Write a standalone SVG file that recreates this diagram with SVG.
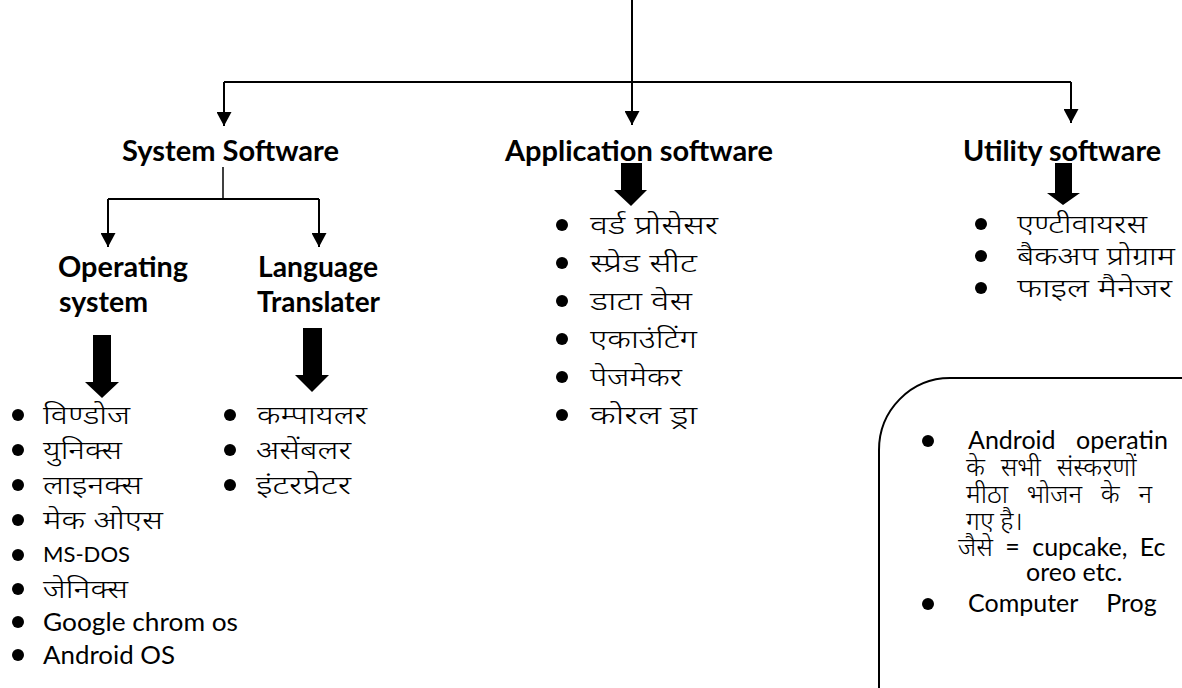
<svg xmlns="http://www.w3.org/2000/svg" width="1182" height="688" viewBox="0 0 1182 688">
<style>
.h{font-family:Lato,"Open Sans",sans-serif;font-weight:bold;font-size:28px;fill:#000}
.t{font-family:"Noto Sans",sans-serif;font-size:25px;font-weight:300;fill:#000}
.b{font-family:"Noto Sans",sans-serif;font-size:26px;font-weight:300;fill:#000}
.l{font-family:Lato,"Noto Sans",sans-serif;font-size:25px;fill:#000}
.ln{stroke:#000;stroke-width:2;fill:none}
.blk{fill:#000}
</style>
<defs>
<marker id="ah" markerWidth="7" markerHeight="7.5" refX="7" refY="3.75" orient="auto" markerUnits="strokeWidth">
<path d="M0,0 L7,3.75 L0,7.5 Z" fill="#000"/>
</marker>
</defs>
<g id="connectors">
<path class="ln" d="M632,0 V125" marker-end="url(#ah)"/>
<path class="ln" d="M224,82 H1071"/>
<path class="ln" d="M224,82 V126" marker-end="url(#ah)"/>
<path class="ln" d="M1071,82 V123" marker-end="url(#ah)"/>
<path class="ln" style="stroke-width:1.5" d="M223,167 V199"/>
<path class="ln" d="M108,199 H319"/>
<path class="ln" d="M108,199 V247" marker-end="url(#ah)"/>
<path class="ln" d="M319,199 V247" marker-end="url(#ah)"/>
<path class="blk" d="M93,335 H111 V382 H119 L102,398 L85,382 H93 Z"/>
<path class="blk" d="M303,328 H322 V375 H329 L312,392 L295,375 H303 Z"/>
<path class="blk" d="M621,163 H642 V190 H647 L631,206 L614,190 H621 Z"/>
<path class="blk" d="M1055,163 H1072 V193 H1080 L1063,205 L1047,193 H1055 Z"/>
</g>
<g id="system-software"><text class="h" x="122" y="161" textLength="217" lengthAdjust="spacingAndGlyphs">System Software</text></g>
<g id="application-software"><text class="h" x="505" y="161" textLength="268" lengthAdjust="spacingAndGlyphs">Application software</text></g>
<g id="utility-software"><text class="h" x="963" y="161" textLength="198" lengthAdjust="spacingAndGlyphs">Utility software</text></g>
<g id="operating-system"><text class="h" x="58" y="277" textLength="130" lengthAdjust="spacingAndGlyphs">Operating</text><text class="h" x="59" y="312" textLength="89" lengthAdjust="spacingAndGlyphs">system</text></g>
<g id="language-translater"><text class="h" x="258" y="277" textLength="120" lengthAdjust="spacingAndGlyphs">Language</text><text class="h" x="257" y="312" textLength="123" lengthAdjust="spacingAndGlyphs">Translater</text></g>
<g id="os-list">
<circle cx="18" cy="415" r="6"/><text class="t" x="43" y="424" textLength="87" lengthAdjust="spacingAndGlyphs">विण्डोज</text>
<circle cx="18" cy="450" r="6"/><text class="t" x="43" y="459" textLength="79" lengthAdjust="spacingAndGlyphs">युनिक्स</text>
<circle cx="18" cy="485" r="6"/><text class="t" x="43" y="494" textLength="99" lengthAdjust="spacingAndGlyphs">लाइनक्स</text>
<circle cx="18" cy="520" r="6"/><text class="t" x="43" y="529" textLength="120" lengthAdjust="spacingAndGlyphs">मेक  ओएस</text>
<circle cx="18" cy="555" r="6"/><text class="l" style="font-size:21px" x="43" y="562" textLength="87" lengthAdjust="spacingAndGlyphs">MS-DOS</text>
<circle cx="18" cy="589" r="6"/><text class="t" x="43" y="598" textLength="85" lengthAdjust="spacingAndGlyphs">जेनिक्स</text>
<circle cx="18" cy="622" r="6"/><text class="l" x="43" y="631" textLength="195" lengthAdjust="spacingAndGlyphs">Google chrom os</text>
<circle cx="18" cy="655" r="6"/><text class="l" x="43" y="664" textLength="132" lengthAdjust="spacingAndGlyphs">Android OS</text>
</g>
<g id="translator-list">
<circle cx="230" cy="415" r="6"/><text class="t" x="257" y="424" textLength="110" lengthAdjust="spacingAndGlyphs">कम्पायलर</text>
<circle cx="230" cy="450" r="6"/><text class="t" x="256" y="459" textLength="95" lengthAdjust="spacingAndGlyphs">असेंबलर</text>
<circle cx="230" cy="485" r="6"/><text class="t" x="256" y="494" textLength="95" lengthAdjust="spacingAndGlyphs">इंटरप्रेटर</text>
</g>
<g id="application-list">
<circle cx="562" cy="225" r="6"/><text class="t" x="590" y="234" textLength="128" lengthAdjust="spacingAndGlyphs">वर्ड प्रोसेसर</text>
<circle cx="562" cy="263" r="6"/><text class="t" x="590" y="272" textLength="107" lengthAdjust="spacingAndGlyphs">स्प्रेड सीट</text>
<circle cx="562" cy="301" r="6"/><text class="t" x="590" y="310" textLength="102" lengthAdjust="spacingAndGlyphs">डाटा वेस</text>
<circle cx="562" cy="339" r="6"/><text class="t" x="590" y="348" textLength="107" lengthAdjust="spacingAndGlyphs">एकाउंटिंग</text>
<circle cx="562" cy="377" r="6"/><text class="t" x="590" y="386" textLength="92" lengthAdjust="spacingAndGlyphs">पेजमेकर</text>
<circle cx="562" cy="415" r="6"/><text class="t" x="590" y="424" textLength="107" lengthAdjust="spacingAndGlyphs">कोरल ड्रा</text>
</g>
<g id="utility-list">
<circle cx="981" cy="224" r="6"/><text class="t" x="1017" y="233" textLength="130" lengthAdjust="spacingAndGlyphs">एण्टीवायरस</text>
<circle cx="981" cy="256" r="6"/><text class="t" x="1017" y="265" textLength="158" lengthAdjust="spacingAndGlyphs">बैकअप प्रोग्राम</text>
<circle cx="981" cy="288" r="6"/><text class="t" x="1017" y="297" textLength="155" lengthAdjust="spacingAndGlyphs">फाइल मैनेजर</text>
</g>
<g id="note-box">
<path class="ln" d="M1184,378 H950 A71,72 0 0 0 879,450 V690"/>
<circle cx="928" cy="441" r="6"/>
<text class="l" x="968" y="449" style="word-spacing:14px">Android operatin</text>
<text class="b" x="966" y="476" style="word-spacing:9px">के सभी संस्करणों</text>
<text class="b" x="966" y="503" style="word-spacing:12px">मीठा भोजन के न</text>
<text class="b" x="966" y="530">गए है।</text>
<text class="l" x="958" y="556" style="word-spacing:6px"><tspan class="b">जैसे</tspan> = cupcake, Ec</text>
<text class="l" x="1026" y="581">oreo etc.</text>
<circle cx="928" cy="604" r="6"/>
<text class="l" x="968" y="612" style="word-spacing:22px">Computer Prog</text>
</g>
</svg>
